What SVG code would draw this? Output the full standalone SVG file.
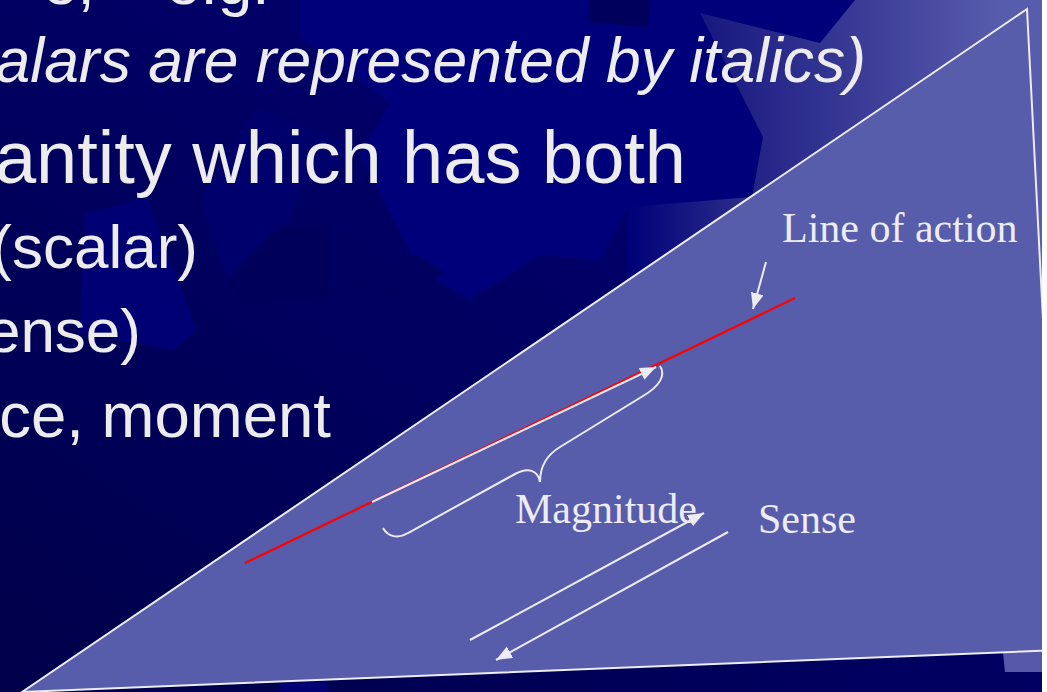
<svg xmlns="http://www.w3.org/2000/svg" width="1047" height="692" viewBox="0 0 1047 692">
<style>
.t{font-family:"Liberation Sans",Arial,sans-serif;fill:#ececec}
.s{font-family:"Liberation Serif","Times New Roman",serif;fill:#ececf2;font-size:42px}
.w{stroke:#ececf2;stroke-width:2;fill:none}
</style>
<defs>
<linearGradient id="bg" x1="1" y1="0" x2="0" y2="1">
<stop offset="0" stop-color="#000078"/>
<stop offset="0.5" stop-color="#000062"/>
<stop offset="1" stop-color="#00004a"/>
</linearGradient>
<linearGradient id="g1" gradientUnits="userSpaceOnUse" x1="700" y1="0" x2="1000" y2="0">
<stop offset="0" stop-color="#17177e"/>
<stop offset="1" stop-color="#585cac"/>
</linearGradient>
<linearGradient id="g2" gradientUnits="userSpaceOnUse" x1="628" y1="0" x2="752" y2="0">
<stop offset="0" stop-color="#000078"/>
<stop offset="1" stop-color="#2e308b"/>
</linearGradient>
<marker id="ah" markerWidth="17" markerHeight="14" refX="16" refY="6.5" orient="auto" markerUnits="userSpaceOnUse">
<path d="M0,0 L16,6.5 L0,13 z" fill="#ececf2"/>
</marker>
</defs>
<g id="background">
<rect width="1047" height="692" fill="url(#bg)"/>
<polygon points="300,0 853,0 853,17 820,43 700,13 763,137 750,200 628,207 600,260 540,255 470,300 420,270 360,155 390,103 300,37" fill="#00007a"/>
<polygon points="257,108 359,147 300,190 278,247 227,280 200,200" fill="#00006c"/>
<polygon points="85,213 147,198 197,330 174,350 80,333" fill="#000074"/>
<polygon points="278,227 327,225 329,295 245,305 227,280" fill="#00005a"/>
<polygon points="416,255 445,273 367,303 329,295" fill="#00005e"/>
<polygon points="590,0 650,0 648,27 588,22" fill="#00005c"/>
<polygon points="700,13 820,43 855,0 1042,0 1042,300 752,300 752,197 763,137" fill="url(#g1)"/>
<polygon points="628,207 752,197 752,420 628,420" fill="url(#g2)"/>
<polygon points="280,683 327,682 327,692 280,692" fill="#000074"/>
<polygon points="1003,652 1042,650 1042,672 1005,672" fill="#5558a8"/>
</g>
<g id="slide-text">
<text class="t" x="43" y="4" font-size="62">e,</text>
<text class="t" x="166" y="4" font-size="62">e.g.</text>
<text class="t" x="866" y="82" font-size="62.4" font-style="italic" text-anchor="end">alars are represented by italics)</text>
<text class="t" x="686" y="183" font-size="74" text-anchor="end">antity which has both</text>
<text class="t" x="198" y="268" font-size="62" text-anchor="end">(scalar)</text>
<text class="t" x="141" y="352" font-size="62" text-anchor="end">ense)</text>
<text class="t" x="331" y="437" font-size="63.5" text-anchor="end">ce, moment</text>
</g>
<g id="triangle">
<polygon points="22,692 1027,9 1060,650" fill="#575cab" stroke="#ececf2" stroke-width="2"/>
</g>
<g id="line-of-action">
<line x1="245" y1="563" x2="795" y2="298" stroke="#ff0000" stroke-width="2.2"/>
</g>
<g id="connectors">
<line class="w" x1="372" y1="502" x2="656" y2="367" marker-end="url(#ah)"/>
<path class="w" d="M383,528 C388,537 398,539 408,533 L515,474 C528,467 538,470 540,482 C540,468 545,456 560,447 L643,396 C660,386 666,375 660,366"/>
<line class="w" x1="766" y1="262" x2="753" y2="309" marker-end="url(#ah)"/>
<line class="w" x1="470" y1="640" x2="704" y2="513" marker-end="url(#ah)"/>
<line class="w" x1="728" y1="532" x2="496" y2="660" marker-end="url(#ah)"/>
</g>
<g id="label-line-of-action"><text class="s" x="782" y="242">Line of action</text></g>
<g id="label-magnitude"><text class="s" x="515" y="523">Magnitude</text></g>
<g id="label-sense"><text class="s" x="758" y="533">Sense</text></g>
<rect x="1042" y="0" width="5" height="692" fill="#ffffff"/>
</svg>
